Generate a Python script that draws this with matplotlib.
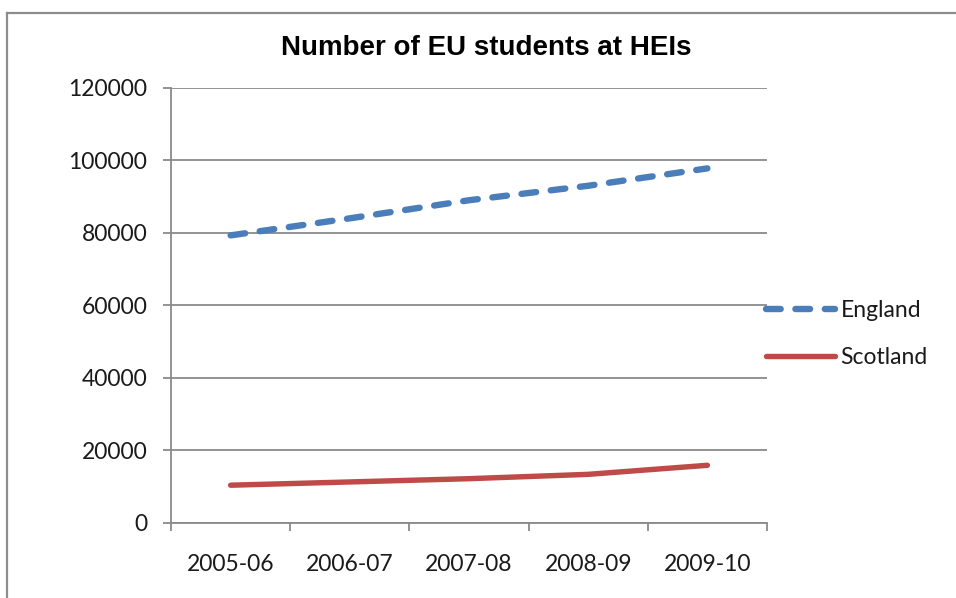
import matplotlib
matplotlib.use("Agg")
import matplotlib.pyplot as plt
from matplotlib.lines import Line2D

years = ["2005-06", "2006-07", "2007-08", "2008-09", "2009-10"]
england = [79300, 84000, 89000, 93000, 97800]
scotland = [10300, 11200, 12100, 13300, 15800]
yticks = [0, 20000, 40000, 60000, 80000, 100000, 120000]

W, H = 956, 598
fig = plt.figure(figsize=(W / 100, H / 100), dpi=100)
fig.patch.set_facecolor("white")

# outer chart frame (left and top edges only visible)
fx, fy = 6.5 / W, 1 - 12.5 / H
fig.add_artist(Line2D([fx, fx], [0, fy], transform=fig.transFigure,
                      color="#8c8c8c", linewidth=1.6))
fig.add_artist(Line2D([fx, 1.0], [fy, fy], transform=fig.transFigure,
                      color="#8c8c8c", linewidth=1.6))

left, right = 171 / W, 767 / W
bottom, top = 1 - 522.5 / H, 1 - 88 / H
ax = fig.add_axes([left, bottom, right - left, top - bottom])

x = list(range(len(years)))
ax.plot(x, england, color="#4A7EBB", linewidth=4.6,
        linestyle=(0, (2.3, 2.3)), dash_capstyle="round",
        solid_capstyle="round", label="England", zorder=3)
ax.plot(x, scotland, color="#BE4B48", linewidth=3.9,
        solid_capstyle="round", label="Scotland", zorder=3)

ax.set_xlim(-0.5, len(years) - 0.5)
ax.set_ylim(0, 120000)
ax.set_yticks(yticks)
ax.set_yticklabels([str(v) for v in yticks])
ax.set_xticks(x)
ax.set_xticklabels(years)
ax.set_xticks([i - 0.5 for i in range(len(years) + 1)], minor=True)

font = "Lato"
fs = 16.5
for lab in ax.get_xticklabels() + ax.get_yticklabels():
    lab.set_fontfamily(font)
    lab.set_fontsize(fs)
    lab.set_color("#1a1a1a")

ax.grid(axis="y", color="#8a8a8a", linewidth=1.3)
ax.set_axisbelow(True)
for s in ["top", "right"]:
    ax.spines[s].set_visible(False)
for s in ["left", "bottom"]:
    ax.spines[s].set_color("#8a8a8a")
    ax.spines[s].set_linewidth(1.3)

ax.tick_params(axis="y", direction="out", length=6, width=1.3,
               color="#8a8a8a", pad=11)
ax.tick_params(axis="x", which="major", length=0, pad=23)
ax.tick_params(axis="x", which="minor", direction="out", length=6,
               width=1.3, color="#8a8a8a")

fig.text(486 / W, 1 - 48 / H, "Number of EU students at HEIs",
         ha="center", va="center", fontsize=20, fontweight="bold",
         family="Liberation Sans", color="black")

leg = ax.legend(loc="center left", bbox_to_anchor=(757 / W, 1 - 334 / H),
                bbox_transform=fig.transFigure, frameon=False,
                prop={"family": font, "size": fs}, handlelength=3.0,
                handletextpad=0.25, labelspacing=1.1, borderaxespad=0)
for t in leg.get_texts():
    t.set_color("#1a1a1a")

fig.savefig("out.png", dpi=100, facecolor="white")
